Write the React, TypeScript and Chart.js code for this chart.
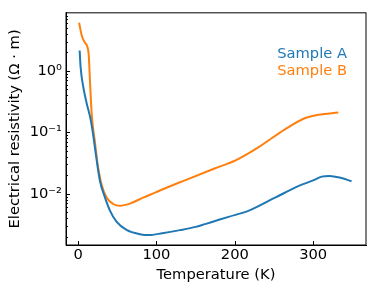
import React, { useEffect, useRef } from "react";
import { Chart, registerables } from "chart.js";

Chart.register(...registerables);

const tempA = [2, 3.3, 6.7, 11, 15.2, 18.2, 22.9, 28, 34.3, 40.7, 49, 61.8, 78.8, 90, 107.5, 130, 150, 162, 171, 192, 218, 252, 281, 300, 311, 321, 336, 349];
const rhoA = [2.15, 1.13, 0.545, 0.296, 0.182, 0.112, 0.042, 0.0159, 0.0087, 0.0053, 0.0035, 0.00257, 0.00219, 0.00212, 0.00227, 0.00255, 0.00288, 0.0032, 0.00347, 0.0042, 0.0053, 0.0087, 0.0133, 0.0165, 0.019, 0.0195, 0.018, 0.016];

const tempB = [1.3, 4.6, 8, 11.8, 13.5, 15.2, 17.3, 19.4, 21.6, 24.5, 30, 36.4, 44.9, 53.4, 66, 83, 99, 107.5, 133, 175, 201, 230, 264, 290, 307, 332];
const rhoB = [6.1, 3.83, 3.0, 2.49, 1.9, 0.69, 0.206, 0.11, 0.0687, 0.033, 0.0141, 0.00865, 0.0068, 0.00638, 0.0069, 0.00865, 0.0105, 0.0117, 0.0159, 0.026, 0.035, 0.057, 0.112, 0.171, 0.193, 0.21];

const seriesNames = ["Sample A", "Sample B"];
const xTicks = [0, 100, 200, 300];
const yMajorTicks = [0.01, 0.1, 1];
const yTickLabels = ["10\u207B\u00B2", "10\u207B\u00B9", "10\u2070"];

const BLUE = "#1f77b4";
const ORANGE = "#ff7f0e";
const FONT = "DejaVu Sans";
const FS = 14.7;

export default function App() {
  const ref = useRef<HTMLCanvasElement>(null);
  useEffect(() => {
    document.body.style.margin = "0";
    const canvas = ref.current!;
    const yMin = 0.00146;
    const yMax = 8.86;
    const yAll: number[] = [];
    for (let e = -3; e <= 0; e++) {
      for (let m = 1; m <= 9; m++) {
        const v = m * Math.pow(10, e);
        if (v >= yMin && v <= yMax) yAll.push(v);
      }
    }
    const isMajor = (v: number) => yMajorTicks.some((t) => Math.abs(v - t) / t < 1e-6);

    const frame = {
      id: "frame",
      afterDatasetsDraw(chart: any) {
        const { ctx, chartArea: a, scales } = chart;
        ctx.save();
        ctx.strokeStyle = "#000";
        ctx.lineWidth = 1;
        ctx.strokeRect(a.left, a.top, a.right - a.left, a.bottom - a.top);
        ctx.beginPath();
        for (const t of xTicks) {
          const x = Math.round(scales.x.getPixelForValue(t)) + 0.5;
          ctx.moveTo(x, a.bottom);
          ctx.lineTo(x, a.bottom - 4);
        }
        for (const v of yAll) {
          const y = Math.round(scales.y.getPixelForValue(v)) + 0.5;
          ctx.moveTo(a.left, y);
          ctx.lineTo(a.left + (isMajor(v) ? 4 : 2), y);
        }
        ctx.stroke();
        // legend text
        ctx.font = `${FS}px "${FONT}"`;
        ctx.textAlign = "right";
        ctx.textBaseline = "middle";
        ctx.fillStyle = BLUE;
        ctx.fillText(seriesNames[0], a.right - 19, a.top + 41);
        ctx.fillStyle = ORANGE;
        ctx.fillText(seriesNames[1], a.right - 19, a.top + 58);
        ctx.restore();
      },
    };

    const chart = new Chart(canvas, {
      type: "line",
      data: {
        datasets: [
          {
            label: seriesNames[0],
            data: tempA.map((t, i) => ({ x: t, y: rhoA[i] })),
            borderColor: BLUE,
            borderWidth: 2,
            pointRadius: 0,
            cubicInterpolationMode: "monotone",
            fill: false,
          },
          {
            label: seriesNames[1],
            data: tempB.map((t, i) => ({ x: t, y: rhoB[i] })),
            borderColor: ORANGE,
            borderWidth: 2,
            pointRadius: 0,
            cubicInterpolationMode: "monotone",
            fill: false,
          },
        ],
      },
      options: {
        responsive: false,
        animation: false,
        devicePixelRatio: 1,
        layout: { padding: { top: 7, right: 8, left: 0, bottom: 0 } },
        plugins: { legend: { display: false }, tooltip: { enabled: false } },
        scales: {
          x: {
            type: "linear",
            min: -15.4,
            max: 367.4,
            afterBuildTicks: (s: any) => {
              s.ticks = xTicks.map((v) => ({ value: v }));
            },
            afterFit: (s: any) => {
              s.height = 46;
            },
            ticks: {
              autoSkip: false,
              maxRotation: 0,
              padding: 1,
              color: "#000",
              font: { family: FONT, size: FS },
              callback: (v: any) => String(v),
            },
            grid: { display: false, drawTicks: false },
            border: { display: true, color: "#000", width: 1 },
            title: {
              display: true,
              text: "Temperature (K)",
              color: "#000",
              font: { family: FONT, size: FS },
              padding: { top: 0, bottom: 7 },
            },
          },
          y: {
            type: "logarithmic",
            min: yMin,
            max: yMax,
            afterBuildTicks: (s: any) => {
              s.ticks = yAll.map((v) => ({ value: v, major: isMajor(v) }));
            },
            afterFit: (s: any) => {
              s.width = 66;
            },
            ticks: {
              autoSkip: false,
              padding: 4,
              color: "#000",
              font: { family: FONT, size: FS },
              callback: (v: any) => {
                const i = yMajorTicks.findIndex((t) => Math.abs(v - t) / t < 1e-6);
                return i >= 0 ? yTickLabels[i] : "";
              },
            },
            grid: { display: false, drawTicks: false },
            border: { display: true, color: "#000", width: 1 },
            title: {
              display: true,
              text: "Electrical resistivity (\u03A9 \u00B7 m)",
              color: "#000",
              font: { family: FONT, size: FS },
              padding: { top: 6, bottom: 0 },
            },
          },
        },
      },
      plugins: [frame],
    } as any);
    return () => chart.destroy();
  }, []);
  return <canvas ref={ref} width={374} height={291} style={{ display: "block" }} />;
}
